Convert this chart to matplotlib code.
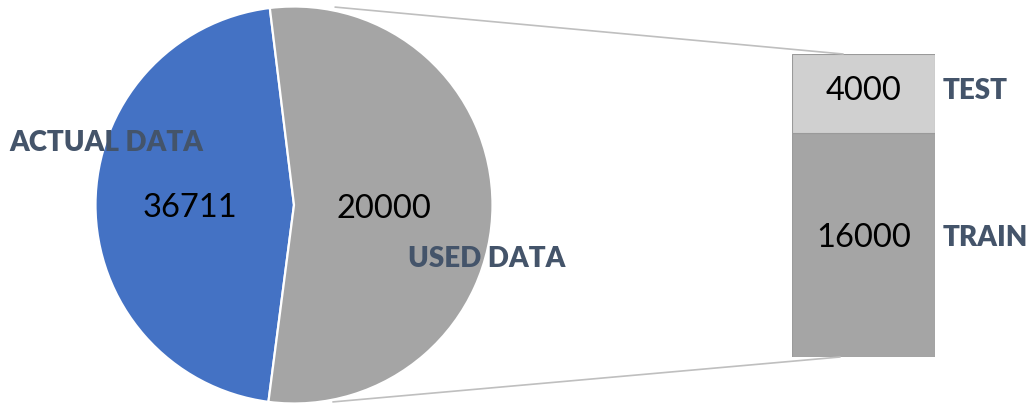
import matplotlib

matplotlib.use("Agg")
import matplotlib.pyplot as plt
from matplotlib.patches import ConnectionPatch

plt.rcParams["font.family"] = ["Lato", "DejaVu Sans"]

# pie: slice shares as drawn in the picture, counts as printed
pie_names = ["ACTUAL DATA", "USED DATA"]
pie_counts = [36711, 20000]
pie_share = [46, 54]
pie_colors = ["#4472C4", "#A5A5A5"]

# bar of the "used" slice, bottom to top
bar_names = ["TRAIN", "TEST"]
bar_counts = [16000, 4000]
bar_share = [74, 26]
bar_colors = ["#A5A5A5", "#D0D0D0"]

LABEL_COLOR = "#44546A"
W, H = 1032, 406

fig = plt.figure(figsize=(W / 100, H / 100), dpi=100)

# pie centre (294, 206) px from top-left, radius 198.5 px
cx, cy, r = 294, 206, 198.5
pie_ax = fig.add_axes([(cx - r) / W, (H - cy - r) / H, 2 * r / W, 2 * r / H])
pie_ax.pie(
    pie_share,
    colors=pie_colors,
    startangle=97,
    counterclock=True,
    radius=1,
    wedgeprops=dict(edgecolor="white", linewidth=1.6),
)
pie_ax.set_xlim(-1, 1)
pie_ax.set_ylim(-1, 1)
pie_ax.set_aspect("equal")
pie_ax.axis("off")

num_kw = dict(fontsize=23.5, color="black", ha="center", va="center")
lab_kw = dict(fontsize=20, color=LABEL_COLOR, fontweight="heavy", ha="center", va="center")
pie_ax.text(-0.524, -0.01, str(pie_counts[0]), **num_kw)
pie_ax.text(0.453, -0.015, str(pie_counts[1]), **num_kw)
pie_ax.text(-0.947, 0.317, pie_names[0], clip_on=False, **lab_kw)
pie_ax.text(0.972, -0.267, pie_names[1], clip_on=False, **lab_kw)

# bar: x 792..935, y 55..358 px
bar_ax = fig.add_axes([792 / W, (H - 358) / H, 143 / W, 303 / H])
bottom = 0
for share, col in zip(bar_share, bar_colors):
    bar_ax.bar(0, share, width=1, bottom=bottom, color=col, edgecolor="#9A9A9A", linewidth=0.8)
    bottom += share
bar_ax.set_xlim(-0.5, 0.5)
bar_ax.set_ylim(0, sum(bar_share))
bar_ax.axis("off")

bar_ax.text(0, 39.6, str(bar_counts[0]), **num_kw)
bar_ax.text(0, 88, str(bar_counts[1]), **num_kw)
side_kw = dict(lab_kw, ha="left")
bar_ax.text(0.556, 39.6, bar_names[0], clip_on=False, **side_kw)
bar_ax.text(0.556, 88, bar_names[1], clip_on=False, **side_kw)

# connector lines from the used slice to the bar
for (px, py), (bx, by) in [((0.207, 0.997), (-0.143, 100)), ((0.196, -0.992), (-0.164, 0))]:
    con = ConnectionPatch(
        xyA=(px, py), coordsA=pie_ax.transData,
        xyB=(bx, by), coordsB=bar_ax.transData,
        color="#BFBFBF", linewidth=1.2,
    )
    fig.add_artist(con)

fig.savefig("out.png", dpi=100, facecolor="white")
